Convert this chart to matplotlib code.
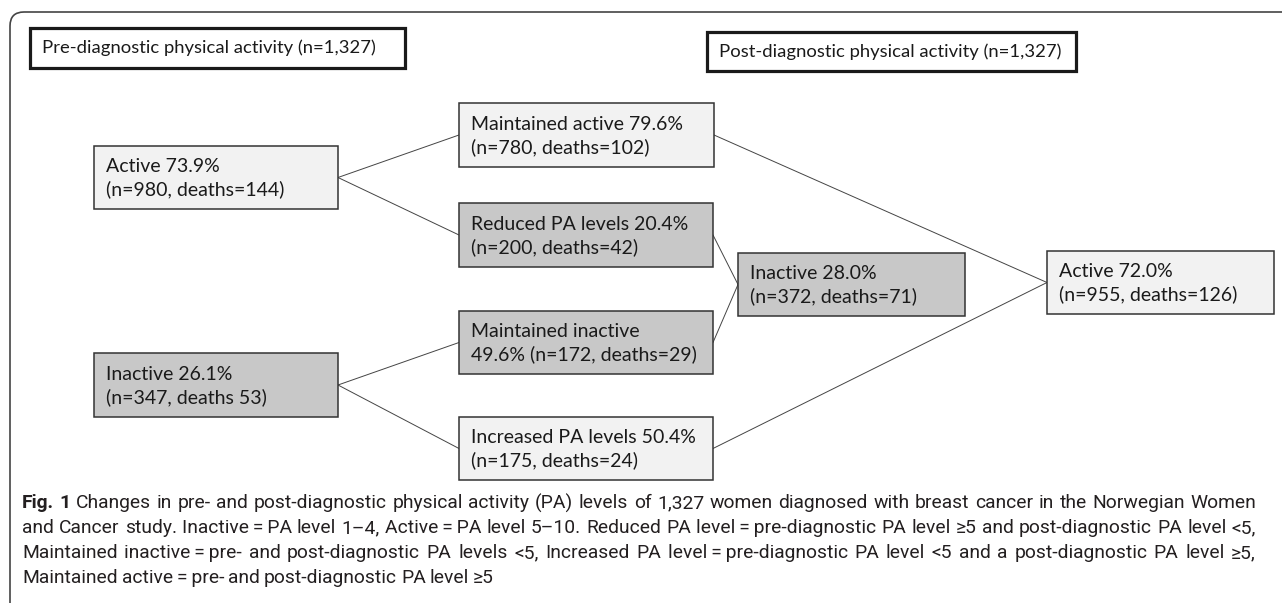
import matplotlib
matplotlib.use('Agg')
import matplotlib.pyplot as plt
from matplotlib.patches import Rectangle, FancyBboxPatch

# ---- data ----
headers = ['Pre-diagnostic physical activity (n=1,327)',
           'Post-diagnostic physical activity (n=1,327)']

pre_text = ['Active 73.9%\n(n=980, deaths=144)',
            'Inactive 26.1%\n(n=347, deaths 53)']
change_text = ['Maintained active 79.6%\n(n=780, deaths=102)',
               'Reduced PA levels 20.4%\n(n=200, deaths=42)',
               'Maintained inactive\n49.6% (n=172, deaths=29)',
               'Increased PA levels 50.4%\n(n=175, deaths=24)']
post_text = ['Inactive 28.0%\n(n=372, deaths=71)',
             'Active 72.0%\n(n=955, deaths=126)']

# which boxes are "inactive" (dark fill)
pre_dark = [False, True]
change_dark = [False, True, True, False]
post_dark = [True, False]

# edges: (from, to)
edges = [('pre0', 'chg0'), ('pre0', 'chg1'), ('pre1', 'chg2'), ('pre1', 'chg3'),
         ('chg1', 'post0'), ('chg2', 'post0'), ('chg0', 'post1'), ('chg3', 'post1')]

caption_lines = [
    'Fig. 1 Changes in pre- and post-diagnostic physical activity (PA) levels of 1,327 women diagnosed with breast cancer in the Norwegian Women',
    'and Cancer study. Inactive\u2009=\u2009PA level 1\u20134, Active\u2009=\u2009PA level 5\u201310. Reduced PA level\u2009=\u2009pre-diagnostic PA level \u22655 and post-diagnostic PA level <5,',
    'Maintained inactive\u2009=\u2009pre- and post-diagnostic PA levels <5, Increased PA level\u2009=\u2009pre-diagnostic PA level <5 and a post-diagnostic PA level \u22655,',
    'Maintained active\u2009=\u2009pre- and post-diagnostic PA level \u22655',
]
caption_bold_words = 2   # "Fig. 1"

# ---- layout (pixels) ----
W, H = 1282, 603
pre_box = [(94, 146, 244, 63), (94, 353, 244, 64)]
chg_box = [(459, 103, 255, 64), (459, 203, 254, 64), (459, 311, 254, 63), (459, 417, 254, 63)]
post_box = [(738, 253, 227, 63), (1047, 251, 227, 63)]
hdr_box = [(30, 28, 375, 40), (707, 32, 369, 39)]

LIGHT, DARK, EDGE = '#f2f2f2', '#c8c8c8', '#333333'
BOXFONT = ['Lato', 'DejaVu Sans']
CAPFONT = ['Roboto', 'DejaVu Sans']

fig = plt.figure(figsize=(W / 100, H / 100), dpi=100)
ax = fig.add_axes([0, 0, 1, 1])
ax.set_xlim(0, W); ax.set_ylim(H, 0); ax.axis('off')

# outer rounded frame (runs off right/bottom edge)
ax.add_patch(FancyBboxPatch((10, 12), W + 40, H + 40,
                            boxstyle='round,pad=0,rounding_size=14',
                            fc='white', ec='#444444', lw=1.2, zorder=0))

for (x, y, w, h), t in zip(hdr_box, headers):
    ax.add_patch(Rectangle((x, y), w, h, fc='white', ec='#1a1a1a', lw=2.3, zorder=2))
    ax.text(x + 12, y + h / 2, t, fontsize=13.3, family=BOXFONT, va='center', ha='left',
            color='#1a1a1a', zorder=3)

boxes = {}
for key, geo, texts, dark in [('pre', pre_box, pre_text, pre_dark),
                              ('chg', chg_box, change_text, change_dark),
                              ('post', post_box, post_text, post_dark)]:
    for i, ((x, y, w, h), t, d) in enumerate(zip(geo, texts, dark)):
        boxes['%s%d' % (key, i)] = (x, y, w, h)
        ax.add_patch(Rectangle((x, y), w, h, fc=DARK if d else LIGHT, ec=EDGE, lw=1.1, zorder=2))
        ax.text(x + 12, y + h / 2 + 1, t, fontsize=14, family=BOXFONT, va='center', ha='left',
                color='#1a1a1a', linespacing=1.35, zorder=3)

for a, b in edges:
    xa, ya, wa, ha_ = boxes[a]
    xb, yb, wb, hb = boxes[b]
    ax.plot([xa + wa, xb], [ya + ha_ / 2, yb + hb / 2], color='#444444', lw=0.7, zorder=1)

# caption, justified like the journal typesetting (last line ragged)
renderer = fig.canvas.get_renderer()
cx0, cx1 = 22, 1256
y0, dy = 503, 25
for k, line in enumerate(caption_lines):
    y = y0 + k * dy
    words = line.split(' ')
    arts = []
    for j, w in enumerate(words):
        bold = (k == 0 and j < caption_bold_words)
        arts.append(ax.text(0, y, w, fontsize=13.9, family=CAPFONT,
                            weight='bold' if bold else 'normal',
                            va='center', ha='left', color='#231f20'))
    widths = [t.get_window_extent(renderer).width for t in arts]
    if k < len(caption_lines) - 1:
        gap = (cx1 - cx0 - sum(widths)) / (len(words) - 1)
    else:
        gap = 4.0
    x = cx0
    for t, wd in zip(arts, widths):
        t.set_x(x)
        x += wd + gap

plt.savefig('out.png', dpi=100)
